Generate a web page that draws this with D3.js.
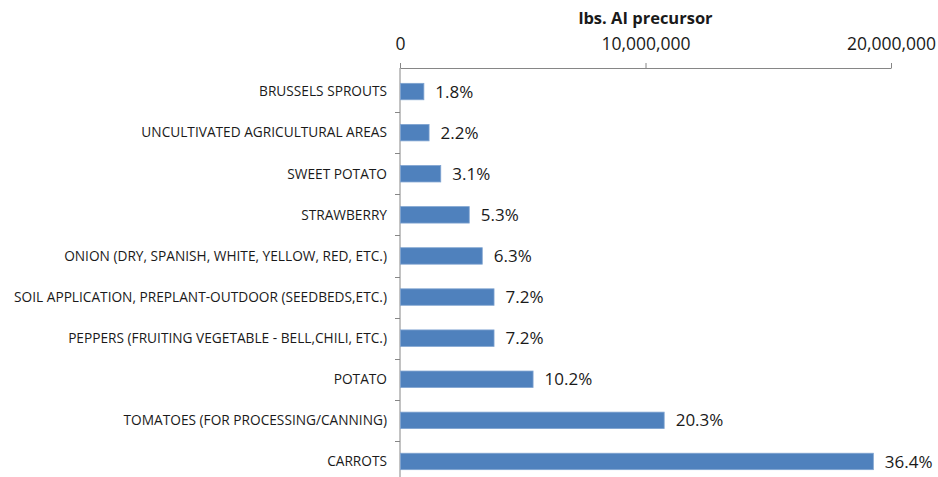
<!DOCTYPE html>
<html><head><meta charset="utf-8">
<script src="https://cdn.jsdelivr.net/npm/d3@7"></script>
<style>body{margin:0;background:#fff}svg{display:block}</style>
</head><body>
<svg id="c" width="938" height="477"></svg>
<script>
const categories = [
  "BRUSSELS SPROUTS",
  "UNCULTIVATED AGRICULTURAL AREAS",
  "SWEET POTATO",
  "STRAWBERRY",
  "ONION (DRY, SPANISH, WHITE, YELLOW, RED, ETC.)",
  "SOIL APPLICATION, PREPLANT-OUTDOOR (SEEDBEDS,ETC.)",
  "PEPPERS (FRUITING VEGETABLE - BELL,CHILI, ETC.)",
  "POTATO",
  "TOMATOES (FOR PROCESSING/CANNING)",
  "CARROTS"
];
const values = [952000, 1164000, 1640000, 2800000, 3330000, 3810000, 3810000, 5400000, 10740000, 19260000];
const percentLabels = ["1.8%","2.2%","3.1%","5.3%","6.3%","7.2%","7.2%","10.2%","20.3%","36.4%"];
const tickValues = [0, 10000000, 20000000];
const axisTitle = "lbs. AI precursor";

(function () {
const svg = d3.select("#c");
const mLeft = 400, mRight = 891, mTop = 68, mBottom = 482;
const x = d3.scaleLinear().domain([0, 20000000]).range([mLeft, mRight]);
const y = d3.scaleBand().domain(categories).range([mTop + 3, mBottom]).paddingInner(0.6).paddingOuter(0.3);
const font = "'Open Sans', Lato, sans-serif";
const textCol = "#1a1a1a";

const xAxis = svg.append("g").attr("transform", `translate(0,${mTop})`)
  .call(d3.axisTop(x).tickValues(tickValues).tickSize(5).tickSizeOuter(0).tickPadding(13).tickFormat(d3.format(",")));
xAxis.select(".domain").attr("stroke", "#868686");
xAxis.selectAll(".tick line").attr("stroke", "#868686");
xAxis.selectAll("text").attr("font-family", font).attr("font-size", 17.5).attr("fill", textCol);

svg.append("text").attr("x", (mLeft + mRight) / 2).attr("y", 24).attr("text-anchor", "middle")
  .attr("font-family", font).attr("font-size", 16.5).attr("font-weight", "bold").attr("fill", textCol).text(axisTitle);

svg.append("line").attr("x1", mLeft).attr("x2", mLeft).attr("y1", mTop).attr("y2", mBottom)
  .attr("stroke", "#868686");
categories.slice(1).forEach((c, i) => {
  const yy = Math.round((y(categories[i]) + y.bandwidth() + y(c)) / 2) + 0.5;
  svg.append("line").attr("x1", mLeft - 5).attr("x2", mLeft).attr("y1", yy).attr("y2", yy).attr("stroke", "#868686");
});

svg.append("g").selectAll("text").data(categories).join("text")
  .attr("x", mLeft - 13).attr("y", d => y(d) + y.bandwidth() / 2).attr("dy", "0.35em")
  .attr("text-anchor", "end").attr("font-family", font).attr("font-size", 13.7).attr("fill", textCol)
  .text(d => d);

svg.append("g").selectAll("rect").data(values).join("rect")
  .attr("x", x(0) + 0.5).attr("y", (d, i) => y(categories[i]))
  .attr("width", d => x(d) - x(0)).attr("height", y.bandwidth())
  .attr("fill", "#4F81BD").attr("stroke", "#7FA3D0").attr("stroke-width", 0.8);

svg.append("g").selectAll("text").data(values).join("text")
  .attr("x", d => x(d) + 12).attr("y", (d, i) => y(categories[i]) + y.bandwidth() / 2).attr("dy", "0.36em")
  .attr("font-family", font).attr("font-size", 17).attr("fill", textCol)
  .text((d, i) => percentLabels[i]);
})();
</script>
</body></html>
